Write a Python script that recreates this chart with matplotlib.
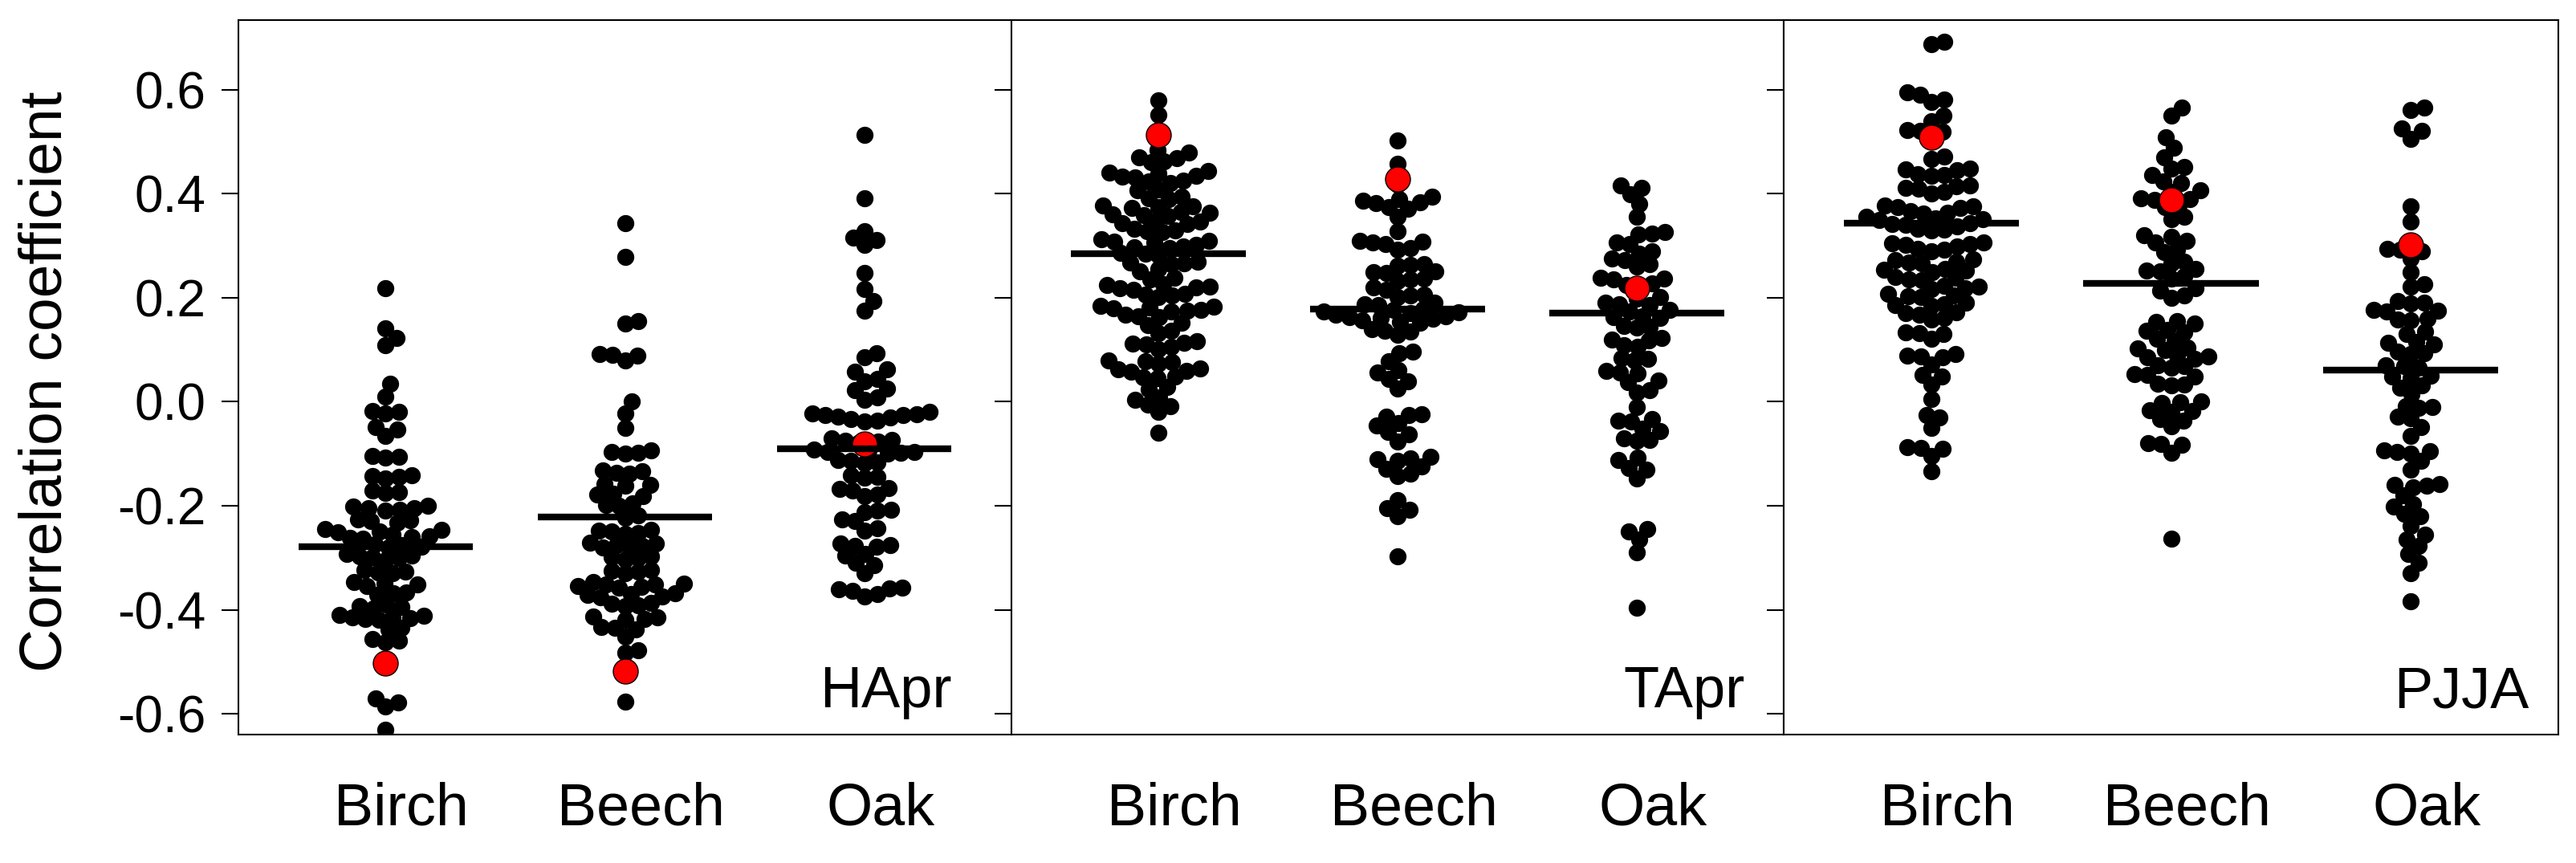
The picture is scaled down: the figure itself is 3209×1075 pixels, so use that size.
import matplotlib
matplotlib.use("Agg")
import matplotlib.pyplot as plt
import numpy as np
from matplotlib.transforms import ScaledTranslation

plt.rcParams['font.family'] = ['Liberation Sans', 'DejaVu Sans']
plt.rcParams['axes.unicode_minus'] = False

######## data ########
species = ['Birch', 'Beech', 'Oak']
panels = ['HApr', 'TApr', 'PJJA']

hapr_birch = [0.218, 0.141, 0.123, 0.108, 0.034, 0.010, -0.018, -0.020, -0.023, -0.049, -0.053, -0.066,
              -0.104, -0.106, -0.108, -0.141, -0.143, -0.145, -0.147, -0.171, -0.173, -0.175, -0.200, -0.202,
              -0.204, -0.205, -0.207, -0.209, -0.226, -0.228, -0.230, -0.232, -0.245, -0.247, -0.249, -0.251,
              -0.256, -0.258, -0.260, -0.262, -0.264, -0.274, -0.276, -0.278, -0.280, -0.293, -0.295, -0.297,
              -0.299, -0.301, -0.305, -0.323, -0.326, -0.328, -0.330, -0.347, -0.350, -0.352, -0.354, -0.367,
              -0.369, -0.371, -0.390, -0.393, -0.395, -0.397, -0.410, -0.412, -0.414, -0.415, -0.416, -0.418,
              -0.420, -0.434, -0.438, -0.457, -0.460, -0.463, -0.570, -0.578, -0.586, -0.631]
hapr_beech = [0.343, 0.279, 0.155, 0.151, 0.092, 0.090, 0.088, 0.080, 0.000, -0.022, -0.051, -0.094,
              -0.096, -0.098, -0.100, -0.132, -0.134, -0.136, -0.138, -0.158, -0.160, -0.162, -0.177, -0.179,
              -0.181, -0.196, -0.198, -0.200, -0.219, -0.223, -0.246, -0.248, -0.250, -0.252, -0.254, -0.271,
              -0.273, -0.275, -0.277, -0.279, -0.281, -0.297, -0.299, -0.301, -0.303, -0.323, -0.325, -0.327,
              -0.329, -0.347, -0.349, -0.351, -0.352, -0.354, -0.356, -0.358, -0.368, -0.370, -0.372, -0.374,
              -0.376, -0.387, -0.389, -0.391, -0.393, -0.413, -0.415, -0.417, -0.419, -0.433, -0.435, -0.437,
              -0.451, -0.478, -0.482, -0.576]
hapr_oak = [0.514, 0.391, 0.328, 0.315, 0.311, 0.301, 0.247, 0.217, 0.193, 0.175, 0.093, 0.085, 0.062,
            0.058, 0.044, 0.040, 0.026, 0.022, 0.008, 0.004, -0.020, -0.022, -0.024, -0.025, -0.026, -0.028,
            -0.030, -0.034, -0.036, -0.038, -0.071, -0.073, -0.075, -0.077, -0.079, -0.092, -0.094, -0.096,
            -0.097, -0.098, -0.100, -0.112, -0.114, -0.116, -0.118, -0.142, -0.144, -0.146, -0.166, -0.168,
            -0.170, -0.178, -0.182, -0.208, -0.210, -0.212, -0.226, -0.230, -0.244, -0.248, -0.272, -0.275,
            -0.277, -0.279, -0.292, -0.296, -0.310, -0.314, -0.330, -0.357, -0.359, -0.361, -0.363, -0.370,
            -0.374]

tapr_birch = [0.580, 0.552, 0.510, 0.484, 0.480, 0.470, 0.468, 0.462, 0.460, 0.443, 0.441, 0.439, 0.435,
              0.433, 0.431, 0.425, 0.423, 0.421, 0.408, 0.406, 0.394, 0.392, 0.390, 0.378, 0.376, 0.374,
              0.372, 0.365, 0.363, 0.361, 0.359, 0.357, 0.348, 0.346, 0.344, 0.342, 0.332, 0.330, 0.328,
              0.326, 0.312, 0.310, 0.308, 0.306, 0.301, 0.299, 0.297, 0.295, 0.286, 0.284, 0.282, 0.270,
              0.268, 0.266, 0.264, 0.255, 0.251, 0.239, 0.235, 0.226, 0.224, 0.222, 0.220, 0.218, 0.216,
              0.208, 0.206, 0.204, 0.202, 0.185, 0.183, 0.181, 0.179, 0.177, 0.175, 0.173, 0.167, 0.165,
              0.163, 0.152, 0.148, 0.136, 0.132, 0.116, 0.114, 0.112, 0.110, 0.105, 0.101, 0.080, 0.078,
              0.076, 0.074, 0.064, 0.062, 0.060, 0.058, 0.049, 0.047, 0.045, 0.028, 0.024, 0.008, 0.004,
              -0.005, -0.009, -0.020, -0.059]
tapr_beech = [0.502, 0.457, 0.418, 0.394, 0.390, 0.386, 0.384, 0.382, 0.375, 0.371, 0.356, 0.328, 0.310,
              0.308, 0.306, 0.304, 0.296, 0.292, 0.265, 0.263, 0.261, 0.251, 0.249, 0.247, 0.237, 0.235,
              0.233, 0.220, 0.216, 0.206, 0.204, 0.202, 0.190, 0.188, 0.186, 0.178, 0.176, 0.174, 0.172,
              0.170, 0.167, 0.165, 0.163, 0.161, 0.159, 0.156, 0.154, 0.152, 0.139, 0.137, 0.135, 0.129,
              0.097, 0.093, 0.078, 0.061, 0.057, 0.044, 0.040, 0.025, -0.024, -0.026, -0.028, -0.041,
              -0.045, -0.058, -0.062, -0.076, -0.106, -0.109, -0.111, -0.114, -0.125, -0.129, -0.139,
              -0.143, -0.189, -0.204, -0.208, -0.220, -0.298]
tapr_oak = [0.416, 0.412, 0.399, 0.380, 0.355, 0.326, 0.324, 0.322, 0.307, 0.303, 0.289, 0.285, 0.276,
            0.272, 0.264, 0.260, 0.239, 0.237, 0.235, 0.227, 0.225, 0.223, 0.202, 0.198, 0.190, 0.188,
            0.186, 0.177, 0.173, 0.165, 0.163, 0.161, 0.146, 0.144, 0.142, 0.122, 0.120, 0.118, 0.109,
            0.105, 0.084, 0.082, 0.080, 0.059, 0.057, 0.055, 0.041, 0.037, 0.022, 0.018, -0.010, -0.034,
            -0.036, -0.038, -0.052, -0.056, -0.071, -0.073, -0.075, -0.108, -0.112, -0.127, -0.131,
            -0.148, -0.245, -0.249, -0.265, -0.290, -0.396]

pjja_birch = [0.692, 0.688, 0.595, 0.591, 0.581, 0.577, 0.551, 0.540, 0.523, 0.521, 0.519, 0.507, 0.471,
              0.467, 0.449, 0.447, 0.445, 0.438, 0.436, 0.434, 0.416, 0.414, 0.412, 0.410, 0.403, 0.401,
              0.378, 0.376, 0.374, 0.372, 0.366, 0.364, 0.362, 0.355, 0.353, 0.351, 0.349, 0.344, 0.342,
              0.340, 0.338, 0.333, 0.331, 0.329, 0.307, 0.305, 0.303, 0.301, 0.299, 0.294, 0.292, 0.290,
              0.274, 0.272, 0.270, 0.268, 0.266, 0.256, 0.254, 0.252, 0.250, 0.240, 0.238, 0.236, 0.234,
              0.223, 0.221, 0.219, 0.217, 0.207, 0.205, 0.203, 0.201, 0.190, 0.188, 0.186, 0.184, 0.172,
              0.170, 0.168, 0.162, 0.158, 0.134, 0.132, 0.130, 0.121, 0.091, 0.089, 0.087, 0.085, 0.071,
              0.052, 0.048, 0.033, 0.005, -0.026, -0.030, -0.050, -0.087, -0.089, -0.091, -0.105, -0.133]
pjja_beech = [0.565, 0.550, 0.508, 0.488, 0.470, 0.452, 0.448, 0.436, 0.424, 0.420, 0.407, 0.403, 0.392,
              0.390, 0.388, 0.378, 0.374, 0.355, 0.351, 0.321, 0.317, 0.310, 0.306, 0.292, 0.288, 0.270,
              0.266, 0.255, 0.253, 0.251, 0.241, 0.237, 0.218, 0.214, 0.204, 0.200, 0.155, 0.153, 0.151,
              0.138, 0.136, 0.134, 0.121, 0.117, 0.104, 0.102, 0.100, 0.089, 0.087, 0.085, 0.083, 0.070,
              0.068, 0.066, 0.053, 0.051, 0.049, 0.035, 0.033, 0.031, 0.001, -0.001, -0.003, -0.016,
              -0.018, -0.020, -0.033, -0.037, -0.047, -0.079, -0.081, -0.083, -0.098, -0.264]
pjja_oak = [0.565, 0.561, 0.525, 0.521, 0.506, 0.376, 0.347, 0.294, 0.292, 0.290, 0.276, 0.250, 0.226,
            0.222, 0.193, 0.191, 0.189, 0.177, 0.175, 0.173, 0.160, 0.158, 0.156, 0.135, 0.131, 0.115,
            0.113, 0.111, 0.096, 0.094, 0.092, 0.070, 0.068, 0.066, 0.050, 0.048, 0.046, 0.031, 0.027,
            0.015, -0.008, -0.010, -0.012, -0.028, -0.032, -0.049, -0.065, -0.093, -0.095, -0.097,
            -0.099, -0.114, -0.130, -0.158, -0.160, -0.162, -0.164, -0.180, -0.197, -0.201, -0.216,
            -0.220, -0.238, -0.255, -0.265, -0.277, -0.293, -0.309, -0.330, -0.384]

# horizontal bars (mean) and red points (observed) per panel
means_hapr = [-0.278, -0.221, -0.091]
means_tapr = [0.285, 0.178, 0.170]
means_pjja = [0.343, 0.228, 0.061]
obs_hapr = [-0.503, -0.518, -0.081]
obs_tapr = [0.513, 0.429, 0.219]
obs_pjja = [0.508, 0.388, 0.302]

yticks = [-0.6, -0.4, -0.2, 0.0, 0.2, 0.4, 0.6]

groups = [[hapr_birch, hapr_beech, hapr_oak],
          [tapr_birch, tapr_beech, tapr_oak],
          [pjja_birch, pjja_beech, pjja_oak]]
means = [means_hapr, means_tapr, means_pjja]
obs = [obs_hapr, obs_tapr, obs_pjja]
label_x = [0.923, 0.950, 0.962]

#######################


def swarm_x(ax, x0, values, d_px):
    # simple beeswarm: place points bottom-up at the smallest free offset
    pts = ax.transData.transform(np.column_stack([np.full(len(values), x0), values]))
    ys = pts[:, 1]
    order = np.argsort(ys)
    px_list = []
    py_list = []
    offs = np.zeros(len(values))
    for i in order:
        y = ys[i]
        cands = [0.0]
        for px, py in zip(px_list, py_list):
            dy = y - py
            if abs(dy) < d_px:
                dx = np.sqrt(d_px ** 2 - dy ** 2)
                cands += [px + dx, px - dx]
        cands.sort(key=abs)
        for c in cands:
            ok = True
            for px, py in zip(px_list, py_list):
                if (c - px) ** 2 + (y - py) ** 2 < d_px ** 2 - 1e-6:
                    ok = False
                    break
            if ok:
                break
        px_list.append(c)
        py_list.append(y)
        offs[i] = c
    unit = ax.transData.transform((1, 0))[0] - ax.transData.transform((0, 0))[0]
    return x0 + offs / unit


W, H = 3209, 1075
fig = plt.figure(figsize=(W / 100, H / 100), dpi=100)

lefts = [297, 1260, 2222]
widths = [963, 962, 965]
top_px, bottom_px = 25, 915

for p in range(3):
    ax = fig.add_axes([lefts[p] / W, 1 - bottom_px / H, widths[p] / W, (bottom_px - top_px) / H])
    ax.set_xlim(0.385, 3.615)
    ax.set_ylim(-0.640, 0.734)

    ax.set_yticks(yticks)
    if p == 0:
        ax.set_yticklabels(['%.1f' % t for t in yticks])
    else:
        ax.set_yticklabels([])
    ax.tick_params(axis='y', direction='out', length=15, width=1.5, labelsize=46, pad=14)

    ax.set_xticks([1, 2, 3])
    ax.set_xticklabels(species)
    ax.tick_params(axis='x', length=0, labelsize=53, pad=42)
    for lab in ax.get_xticklabels():
        lab.set_transform(lab.get_transform() + ScaledTranslation(0.2, 0, fig.dpi_scale_trans))

    for s in ax.spines.values():
        s.set_linewidth(1.5)

    for i in range(3):
        vals = groups[p][i]
        xs = swarm_x(ax, i + 1, vals, 16.5)
        ax.scatter(xs, vals, s=235, color='black', linewidths=0, zorder=2)
        ax.scatter([i + 1], [obs[p][i]], s=500, facecolor='red', edgecolor='black',
                   linewidths=1.0, zorder=3)
        ax.hlines(means[p][i], i + 1 - 0.365, i + 1 + 0.365, color='black', lw=6.0, zorder=4)

    ax.text(label_x[p], 0.038, panels[p], transform=ax.transAxes, ha='right', va='baseline',
            fontsize=52)

fig.text(57 / W, 1 - 475 / H, 'Correlation coefficient', rotation=90, ha='center', va='center',
         fontsize=54)

plt.savefig('out.png', dpi=100)
